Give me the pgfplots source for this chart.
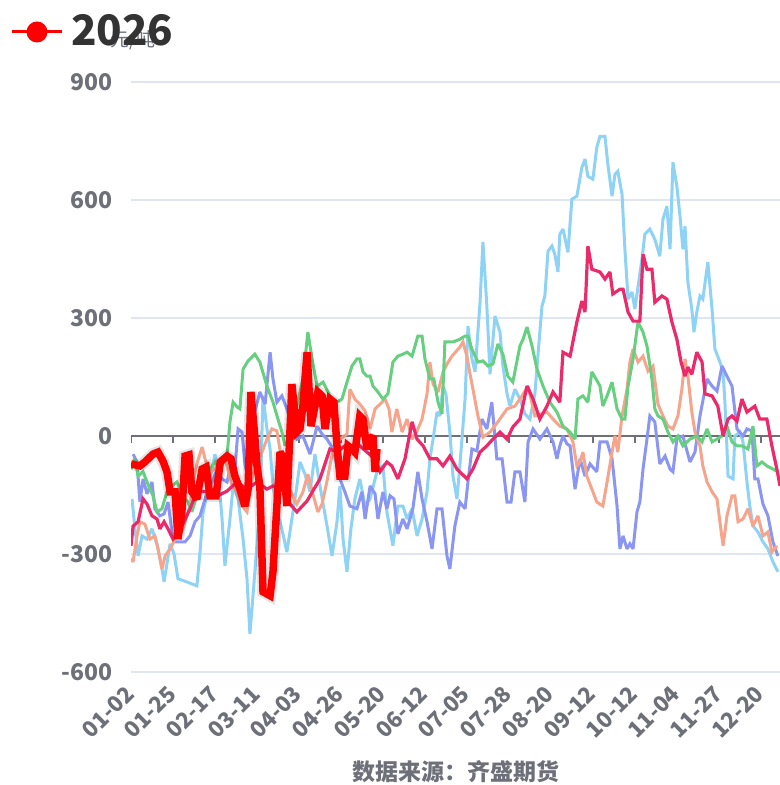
\documentclass[border=0pt]{standalone}
\usepackage{fontspec}
\setmainfont{Noto Sans CJK SC}
\usepackage{pgfplots}
\pgfplotsset{compat=1.18}
\definecolor{axgray}{HTML}{6E7079}
\definecolor{gridc}{HTML}{E0E6F1}
\definecolor{cred}{HTML}{FF0000}
\definecolor{cpink}{HTML}{EC2A6A}
\definecolor{clblue}{HTML}{8ED3F5}
\definecolor{cblue}{HTML}{8A96F2}
\definecolor{cgreen}{HTML}{66CF80}
\definecolor{csalmon}{HTML}{F6A48C}
\definecolor{ctext}{HTML}{333333}
\begin{document}
\begin{tikzpicture}
\useasboundingbox (0,0) rectangle (780bp,785bp);
\begin{axis}[
  at={(131bp,113bp)}, anchor=south west,
  width=649bp, height=590bp, scale only axis,
  xmin=0, xmax=247.3, ymin=-600, ymax=900,
  axis line style={draw=none},
  major tick length=0pt,
  xtick={0,16,32,48,64,80,96,112,128,144,160,176,192,208,224,240},
  xticklabels={01-02,01-25,02-17,03-11,04-03,04-26,05-20,06-12,07-05,07-28,08-20,09-12,10-12,11-04,11-27,12-20},
  ytick={-600,-300,0,300,600,900},
  yticklabels={-600,-300,0,300,600,900},
  ymajorgrids,
  grid style={gridc, line width=1.3bp},
  xticklabel style={yshift=-18bp, xshift=-1bp, rotate=45, anchor=east, inner sep=0pt, text=axgray, font=\bfseries\fontsize{22bp}{22bp}\selectfont},
  yticklabel style={anchor=east, inner sep=0pt, xshift=-18bp, text=axgray, font=\bfseries\fontsize{23bp}{23bp}\selectfont},
  every axis plot/.append style={no markers, line join=miter, miter limit=2.5, line cap=butt},
  clip=true,
]
\draw[axgray, line width=1.4bp] (axis cs:0,0) -- (axis cs:247.3,0);
\pgfplotsinvokeforeach{0,16,32,48,64,80,96,112,128,144,160,176,192,208,224,240}{
  \draw[axgray, line width=1.4bp] (axis cs:#1,0) -- ([yshift=-7bp]axis cs:#1,0);
}
% light blue
\addplot[clblue, line width=3bp] coordinates {
(0.4,-160)(1.5,-236)(2.7,-305)(4.2,-254)(6.1,-262)(8.0,-236)(9.9,-274)(11.8,-338)(12.6,-371)(14.9,-274)(16.4,-300)(17.9,-363)(21.3,-371)(25.1,-381)(26.3,-295)(27.4,-198)(30.1,-109)(32.0,-46)(33.1,-84)(34.7,-211)(35.8,-330)(37.7,-211)(38.9,-127)(40.8,-160)(42.7,-262)(44.2,-363)(45.3,-503)(46.1,-439)(47.2,-345)(49.1,-178)(50.3,102)(51.8,18)(53.0,-33)(54.1,-127)(55.6,-185)(57.9,-249)(59.4,-295)(61.3,-211)(63.2,-127)(64.4,-66)(66.3,-97)(68.2,-142)(70.1,-46)(72.0,-127)(74.7,-229)(76.6,-305)(78.5,-218)(79.6,-127)(80.8,-262)(82.3,-345)(83.8,-236)(85.3,-160)(87.2,-109)(89.2,-178)(91.1,-160)(93.7,-91)(96.0,-76)(97.5,-193)(99.8,-279)(101.7,-178)(103.6,-178)(105.2,-211)(107.1,-185)(109.0,-254)(110.9,-211)(112.8,-142)(113.9,-58)(115.1,-8)(116.6,61)(117.7,51)(118.9,127)(120.0,107)(121.5,10)(122.7,-102)(124.2,-160)(125.3,-76)(127.3,94)(128.4,279)(129.9,196)(131.1,163)(133.0,340)(134.1,493)(135.6,330)(136.8,157)(138.7,305)(140.6,264)(141.7,178)(143.3,107)(144.4,76)(146.3,119)(148.2,94)(150.1,56)(152.0,43)(153.9,107)(155.1,208)(156.6,330)(157.7,356)(158.9,470)(160.4,483)(161.5,462)(162.7,417)(163.4,513)(164.6,526)(166.5,467)(168.0,602)(169.9,610)(171.8,683)(173.0,704)(174.1,660)(176.0,653)(177.5,734)(178.7,762)(180.6,762)(181.7,691)(183.3,610)(184.4,665)(185.5,673)(187.1,615)(188.2,475)(189.4,348)(190.9,366)(192.0,323)(194.7,450)(195.8,513)(197.7,526)(199.6,500)(201.5,457)(202.7,551)(204.2,584)(205.4,475)(206.5,696)(208.0,635)(209.2,559)(210.3,475)(211.1,533)(212.2,391)(213.7,323)(214.5,264)(215.6,315)(216.8,356)(217.9,348)(219.8,442)(221.4,323)(222.5,221)(224.4,188)(225.6,165)(226.3,86)(227.1,-33)(227.5,-102)(229.4,-109)(230.1,0)(232.0,10)(233.2,-15)(234.7,-117)(235.8,-178)(237.0,-229)(238.9,-244)(240.8,-269)(242.7,-287)(244.6,-320)(246.5,-345)
};
% blue-purple
\addplot[cblue, line width=3bp] coordinates {
(0.8,-46)(2.3,-66)(3.4,-168)(4.6,-109)(6.1,-147)(8.0,-117)(9.1,-185)(11.0,-203)(12.6,-198)(14.1,-168)(15.6,-244)(16.8,-269)(20.6,-269)(22.5,-254)(24.4,-218)(26.3,-203)(29.0,-142)(30.9,-117)(32.8,-84)(34.7,-109)(36.6,-117)(37.7,-84)(39.6,-84)(40.8,18)(42.3,10)(43.4,-71)(44.6,-109)(46.5,43)(49.1,112)(51.1,81)(53.0,213)(54.1,145)(55.6,86)(57.5,102)(59.4,69)(61.3,30)(63.2,-8)(65.5,0)(68.2,-46)(70.9,25)(72.8,5)(74.7,-8)(77.0,-33)(79.6,-109)(81.5,-142)(83.4,-178)(86.1,-185)(88.0,-142)(89.2,-211)(91.1,-127)(93.0,-147)(94.1,-211)(96.0,-142)(97.5,-185)(98.7,-152)(100.2,-160)(101.7,-249)(103.6,-211)(105.2,-236)(107.4,-185)(109.3,-91)(110.9,-160)(112.8,-218)(114.7,-287)(116.6,-185)(118.5,-185)(120.4,-305)(121.5,-338)(123.4,-229)(125.3,-168)(127.3,-185)(128.4,-117)(129.9,-33)(131.8,-38)(133.7,43)(135.6,18)(137.5,86)(139.4,-58)(141.4,-58)(143.3,-168)(144.8,-168)(146.3,-91)(148.2,-91)(150.1,-168)(151.3,-15)(153.2,18)(155.8,-8)(158.5,18)(160.8,-15)(162.3,-58)(163.4,-25)(164.6,0)(166.1,-20)(167.3,-25)(169.2,-135)(171.1,-58)(173.0,-102)(174.9,-71)(177.5,-91)(178.7,-15)(181.4,-15)(183.3,-58)(185.2,-178)(186.3,-287)(187.5,-254)(189.0,-287)(190.1,-274)(191.3,-287)(192.8,-193)(193.9,-168)(195.1,-84)(196.6,-8)(197.7,51)(199.6,36)(201.5,-71)(203.5,-51)(205.4,-84)(206.5,-91)(208.0,-8)(210.3,0)(213.0,-66)(214.9,-41)(216.8,51)(219.5,145)(221.4,127)(223.3,114)(225.2,178)(227.1,152)(229.0,127)(230.9,18)(233.2,0)(234.7,18)(236.6,13)(237.7,-109)(238.9,-109)(240.8,-173)(242.7,-203)(244.6,-269)(246.5,-305)
};
% salmon
\addplot[csalmon, line width=3bp] coordinates {
(0,-312)(0.8,-320)(2.3,-254)(3.4,-218)(5.3,-224)(7.2,-262)(9.1,-254)(10.3,-287)(11.8,-338)(13.0,-305)(14.9,-287)(16.8,-262)(19.8,-236)(22.5,-178)(23.6,-117)(25.1,-71)(27.1,-28)(28.2,-58)(30.1,-91)(32.0,-84)(33.9,-66)(36.2,-66)(38.5,-127)(40.4,-142)(42.3,-178)(44.2,-193)(46.1,-109)(48.0,-66)(49.9,-41)(51.8,-8)(53.7,18)(55.6,13)(57.5,-66)(59.4,-122)(61.3,-147)(63.2,-173)(65.5,-142)(67.4,-97)(69.3,-147)(71.2,-193)(72.8,-173)(74.7,-114)(77.0,-33)(79.6,-8)(82.3,5)(83.4,119)(85.3,94)(87.2,81)(89.2,64)(91.1,18)(93.0,69)(94.9,81)(96.8,94)(98.3,69)(99.4,10)(101.3,69)(103.3,10)(105.2,43)(107.1,-8)(109.0,13)(110.9,43)(112.8,107)(113.9,188)(115.1,132)(117.0,112)(118.9,163)(120.4,183)(122.3,203)(125.3,226)(126.5,239)(128.0,203)(129.2,157)(130.3,119)(132.2,51)(134.1,-3)(136.8,10)(139.8,36)(143.3,69)(146.3,76)(149.0,102)(151.3,127)(153.9,51)(156.2,56)(158.5,61)(160.8,43)(163.4,25)(166.1,18)(168.4,-15)(169.9,-76)(171.1,-66)(172.2,-41)(173.7,-102)(175.6,-135)(177.5,-168)(179.8,-178)(181.4,-117)(183.3,-41)(184.4,0)(185.5,-41)(187.1,51)(189.0,119)(190.1,188)(191.3,221)(193.2,188)(195.1,203)(197.0,165)(198.9,178)(200.8,81)(202.7,51)(204.6,25)(206.5,18)(208.4,51)(209.9,119)(211.1,196)(212.2,152)(213.7,61)(214.9,10)(216.8,-25)(217.9,-76)(219.5,-117)(221.4,-142)(223.3,-160)(224.4,-218)(225.6,-279)(227.1,-203)(229.0,-152)(230.1,-152)(231.3,-218)(233.2,-211)(235.1,-185)(237.0,-229)(238.9,-203)(240.8,-254)(242.7,-244)(244.2,-295)(246.1,-279)
};
% green
\addplot[cgreen, line width=3bp] coordinates {
(0,-84)(1.5,-58)(2.7,-102)(4.6,-91)(7.2,-135)(8.4,-152)(9.9,-193)(11.8,-185)(13.7,-142)(15.6,-127)(17.5,-117)(19.8,-152)(21.7,-168)(23.2,-193)(25.1,-152)(27.4,-91)(30.1,-84)(32.0,-66)(33.9,-84)(36.6,-51)(37.7,36)(38.9,86)(40.4,74)(41.5,69)(42.7,170)(44.6,191)(47.2,208)(49.1,188)(51.8,127)(54.1,86)(56.0,43)(57.5,10)(58.7,-25)(60.6,0)(63.2,76)(65.5,145)(67.4,264)(69.0,196)(70.9,127)(73.2,137)(75.8,102)(78.5,86)(80.4,94)(82.3,137)(84.2,178)(86.1,196)(87.2,196)(88.4,163)(89.9,152)(91.1,152)(92.2,127)(94.1,112)(96.0,94)(97.9,107)(99.8,188)(101.7,203)(103.6,208)(105.2,213)(107.1,203)(109.3,254)(110.9,254)(112.0,196)(113.9,145)(115.4,145)(117.0,86)(118.5,56)(119.6,239)(122.7,239)(125.3,246)(127.3,254)(128.4,254)(129.9,221)(132.2,188)(134.1,191)(136.0,178)(137.9,183)(139.8,234)(141.7,208)(143.6,152)(145.5,137)(148.2,229)(149.4,246)(150.9,277)(152.8,229)(154.7,170)(157.0,127)(159.6,86)(162.3,61)(164.6,25)(167.3,10)(169.2,-8)(170.3,94)(172.2,102)(174.1,86)(175.6,163)(177.2,145)(178.7,127)(179.8,76)(181.4,102)(183.3,137)(185.2,69)(187.1,43)(188.2,43)(189.4,127)(191.3,196)(193.2,290)(195.1,264)(196.6,229)(198.5,145)(199.6,69)(200.8,51)(202.7,43)(204.6,10)(206.5,-15)(208.4,0)(210.3,-25)(213.0,-8)(215.6,0)(217.6,-15)(219.5,18)(221.4,-15)(223.3,-8)(225.2,0)(227.1,25)(229.0,-15)(230.9,-25)(232.8,-25)(235.1,-33)(237.0,25)(238.5,-76)(240.4,-66)(242.3,-76)(244.6,-84)(246.5,-91)
};
% pink
\addplot[cpink, line width=3.2bp] coordinates {
(0,-279)(0.8,-229)(2.7,-218)(4.6,-160)(6.1,-173)(8.0,-203)(9.9,-211)(11.0,-236)(12.6,-218)(14.1,-236)(16.0,-262)(17.9,-244)(19.4,-229)(22.5,-185)(25.1,-142)(30.1,-140)(33.1,-152)(36.6,-140)(40.4,-117)(44.2,-135)(48.0,-117)(51.8,-135)(54.1,-127)(57.9,-135)(60.6,-173)(63.2,-193)(67.1,-165)(72.0,-109)(75.8,-33)(78.5,-41)(81.5,-25)(84.6,-33)(87.2,-25)(89.9,-41)(93.0,-58)(94.9,-91)(97.5,-66)(99.4,-76)(101.7,-109)(104.4,-58)(107.1,36)(109.0,-8)(111.3,-25)(113.9,-58)(116.6,-58)(118.9,-76)(121.5,-51)(124.2,-84)(128.0,-109)(130.3,-84)(133.0,-41)(135.6,-25)(137.9,-8)(140.6,10)(143.3,-8)(145.5,23)(148.2,43)(150.9,127)(153.2,94)(155.8,43)(158.5,76)(160.8,112)(163.4,86)(164.6,213)(167.3,203)(169.9,290)(171.8,343)(173.0,315)(174.1,483)(175.6,424)(178.7,417)(180.6,399)(182.5,417)(183.6,361)(186.3,373)(187.5,373)(189.4,315)(191.3,292)(193.9,292)(195.1,462)(196.6,424)(198.5,424)(199.6,340)(202.3,356)(204.2,348)(206.1,290)(208.0,246)(209.6,188)(211.1,152)(212.2,175)(213.7,157)(215.6,213)(217.6,188)(218.7,107)(221.4,102)(223.6,76)(225.6,0)(227.5,43)(229.0,51)(230.9,38)(232.8,94)(234.7,61)(237.7,76)(239.6,43)(242.3,43)(244.2,-25)(246.1,-84)(247.3,-127)
};
% 2026 red
\addplot[cred, line width=7.5bp, preaction={draw=black, opacity=0.10, line width=12bp}] coordinates {
(0,-71)(3.4,-76)(5.3,-66)(8.4,-46)(10.3,-41)(12.2,-64)(13.7,-91)(14.9,-142)(16.8,-142)(17.9,-262)(19.4,-193)(20.6,-51)(22.1,-48)(23.2,-142)(25.1,-160)(27.1,-84)(28.6,-79)(30.1,-152)(32.4,-152)(34.0,-66)(36.6,-51)(38.1,-58)(39.6,-102)(41.5,-135)(43.4,-178)(44.6,-135)(45.7,112)(47.2,-3)(48.0,-76)(49.1,-127)(50.3,-396)(53.0,-406)(54.1,-345)(56.8,-41)(57.9,-53)(59.4,-178)(61.3,132)(63.2,10)(64.4,18)(65.5,76)(67.1,213)(68.6,25)(70.1,76)(71.2,112)(72.8,102)(73.9,18)(75.8,94)(77.3,86)(78.5,-25)(79.6,-102)(81.5,-102)(82.7,-25)(84.2,-33)(85.3,-41)(87.2,51)(88.4,43)(89.9,-33)(91.1,-8)(92.2,0)(93.0,-91)(93.7,-33)
};
\end{axis}
\node[text=axgray, font=\fontsize{19bp}{19bp}\selectfont, inner sep=0pt] at (133bp,745bp) {元/吨};
\draw[cred, line width=3bp] (12bp,753bp) -- (62bp,753bp);
\fill[cred] (37bp,753bp) circle (10.5bp);
\node[anchor=west, inner sep=0pt, text=ctext, font=\bfseries\fontsize{42bp}{42bp}\selectfont] at (71bp,755bp) {2026};
\node[text=axgray, inner sep=0pt, font=\bfseries\fontsize{23bp}{23bp}\selectfont] at (456bp,13bp) {数据来源：齐盛期货};
\end{tikzpicture}
\end{document}
